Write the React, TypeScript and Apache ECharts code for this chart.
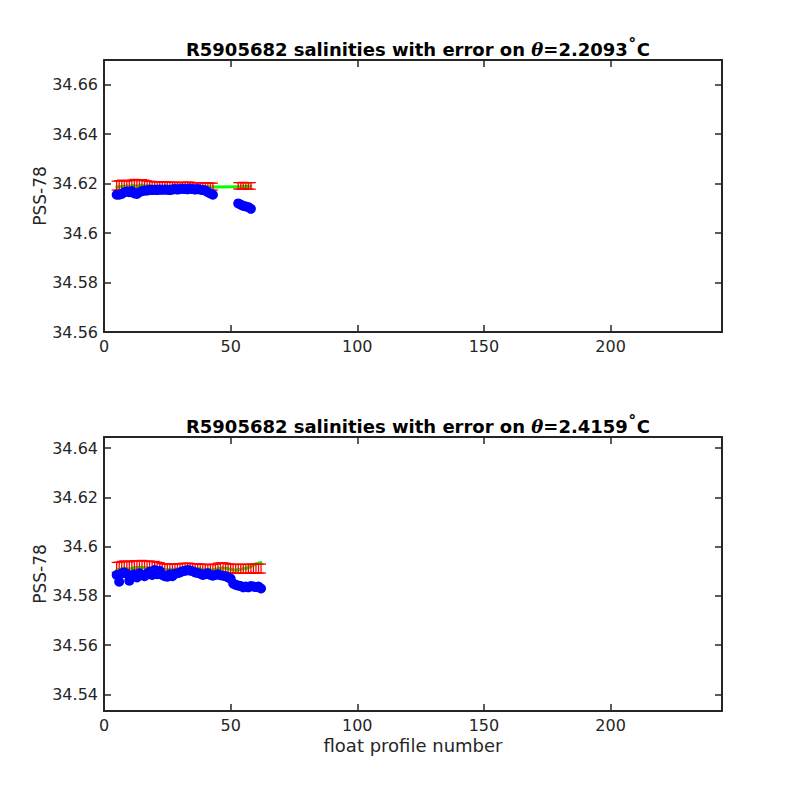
import React, { useEffect, useRef } from "react";
import * as echarts from "echarts";

// ---------- data ----------
const xTicks = [0, 50, 100, 150, 200];
const topYTicks = [34.56, 34.58, 34.6, 34.62, 34.64, 34.66];
const botYTicks = [34.54, 34.56, 34.58, 34.6, 34.62, 34.64];

const topTitleTheta = "2.2093";
const botTitleTheta = "2.4159";

const topProfiles = [
  5, 6, 7, 8, 9, 10, 11, 12, 13, 14, 15, 16, 17, 18, 19, 20, 21, 22, 23, 24,
  25, 26, 27, 28, 29, 30, 31, 32, 33, 34, 35, 36, 37, 38, 39, 40, 41, 42, 43,
  53, 54, 55, 56, 57, 58,
];
const topSal = [
  34.6155, 34.6155, 34.6158, 34.6165, 34.6168, 34.6165, 34.617, 34.616, 34.6158, 34.6165,
  34.617, 34.6172, 34.6172, 34.6175, 34.6174, 34.6175, 34.6174, 34.6176, 34.6175, 34.6176,
  34.6175, 34.6174, 34.6176, 34.6178, 34.6176, 34.6178, 34.6179, 34.6178, 34.6177, 34.618,
  34.6178, 34.6176, 34.6178, 34.6176, 34.6174, 34.6172, 34.6165, 34.616, 34.6155,
  34.612, 34.6115, 34.611, 34.6108, 34.6105, 34.6098,
];
const topCal = [
  34.6186, 34.6187, 34.6188, 34.6189, 34.619, 34.6189, 34.619, 34.6191, 34.619, 34.6191,
  34.6192, 34.6191, 34.619, 34.6191, 34.619, 34.6189, 34.619, 34.6189, 34.6188, 34.6189,
  34.619, 34.6189, 34.619, 34.6191, 34.619, 34.619, 34.6189, 34.619, 34.6191, 34.619,
  34.6189, 34.6188, 34.6188, 34.6187, 34.6188, 34.6187, 34.6186, 34.6186, 34.6186,
  34.6187, 34.6187, 34.6188, 34.6188, 34.6189, 34.6189,
];
const topBarMid = [
  34.6192, 34.6193, 34.6194, 34.6193, 34.6192, 34.6193, 34.6194, 34.6195, 34.6194, 34.6193,
  34.6195, 34.6194, 34.6193, 34.6192, 34.6192, 34.6191, 34.6192, 34.6191, 34.6191, 34.6192,
  34.6191, 34.619, 34.6191, 34.6191, 34.619, 34.619, 34.6191, 34.619, 34.6191, 34.6191,
  34.619, 34.619, 34.619, 34.6189, 34.619, 34.6189, 34.6189, 34.6188, 34.6188,
  34.6191, 34.6191, 34.6192, 34.6191, 34.6191, 34.6191,
];
const topErr = [
  0.0018, 0.0019, 0.002, 0.0019, 0.0018, 0.0019, 0.0021, 0.0022, 0.002, 0.0019,
  0.0021, 0.002, 0.0018, 0.0017, 0.0017, 0.0016, 0.0016, 0.0016, 0.0015, 0.0016,
  0.0015, 0.0015, 0.0015, 0.0015, 0.0014, 0.0015, 0.0015, 0.0014, 0.0015, 0.0015,
  0.0014, 0.0014, 0.0014, 0.0014, 0.0014, 0.0014, 0.0014, 0.0014, 0.0014,
  0.0013, 0.0013, 0.0013, 0.0013, 0.0013, 0.0013,
];

const botProfiles = [
  5, 6, 7, 8, 9, 10, 11, 12, 13, 14, 15, 16, 17, 18, 19, 20, 21, 22, 23, 24,
  25, 26, 27, 28, 29, 30, 31, 32, 33, 34, 35, 36, 37, 38, 39, 40, 41, 42, 43, 44,
  45, 46, 47, 48, 49, 50, 51, 52, 53, 54, 55, 56, 57, 58, 59, 60, 61, 62,
];
const botSal = [
  34.5885, 34.5858, 34.5892, 34.5895, 34.589, 34.5862, 34.588, 34.5888, 34.5875, 34.5892,
  34.5885, 34.588, 34.589, 34.5898, 34.5885, 34.5905, 34.5888, 34.5902, 34.5885, 34.588,
  34.5878, 34.5888, 34.588, 34.589, 34.5892, 34.5895, 34.59, 34.5902, 34.5905, 34.5903,
  34.59, 34.5895, 34.5893, 34.589, 34.5885, 34.5888, 34.5892, 34.5885, 34.5882, 34.5885,
  34.5888, 34.5884, 34.5882, 34.588, 34.5875, 34.587, 34.585, 34.5845, 34.5842, 34.584,
  34.5835, 34.5838, 34.5835, 34.584, 34.5838, 34.5836, 34.5838, 34.583,
];
const botCal = [
  34.5905, 34.5908, 34.591, 34.5912, 34.591, 34.5908, 34.5912, 34.5914, 34.5915, 34.5916,
  34.5915, 34.5914, 34.5913, 34.5915, 34.5912, 34.5915, 34.5913, 34.591, 34.5908, 34.5906,
  34.5906, 34.5907, 34.5907, 34.5908, 34.5909, 34.591, 34.5912, 34.5913, 34.5914, 34.5913,
  34.5912, 34.5911, 34.591, 34.5909, 34.5908, 34.5907, 34.5906, 34.5905, 34.5906, 34.5907,
  34.591, 34.5912, 34.5913, 34.5912, 34.591, 34.5908, 34.5906, 34.5905, 34.5906, 34.5908,
  34.591, 34.5912, 34.5915, 34.592, 34.5925, 34.593, 34.5933, 34.5935,
];
const botBarMid = [
  34.5916, 34.5917, 34.5919, 34.592, 34.5919, 34.5918, 34.592, 34.5921, 34.592, 34.5921,
  34.5922, 34.5921, 34.592, 34.5921, 34.5919, 34.592, 34.5918, 34.5916, 34.5913, 34.5912,
  34.5911, 34.5911, 34.5911, 34.5912, 34.5912, 34.5913, 34.5914, 34.5914, 34.5915, 34.5914,
  34.5913, 34.5912, 34.5912, 34.5911, 34.591, 34.591, 34.591, 34.5909, 34.591, 34.5911,
  34.5914, 34.5915, 34.5915, 34.5914, 34.5912, 34.5911, 34.591, 34.591, 34.591, 34.591,
  34.591, 34.591, 34.591, 34.5911, 34.5911, 34.5911, 34.5911, 34.5911,
];
const botErr = [
  0.002, 0.002, 0.0021, 0.0022, 0.0021, 0.002, 0.0021, 0.0022, 0.0021, 0.0022,
  0.0022, 0.0021, 0.002, 0.0021, 0.002, 0.002, 0.0019, 0.0019, 0.0018, 0.0018,
  0.0018, 0.0018, 0.0018, 0.0018, 0.0018, 0.0018, 0.0018, 0.0018, 0.0018, 0.0018,
  0.0018, 0.0018, 0.0018, 0.0018, 0.0018, 0.0018, 0.0018, 0.0018, 0.0018, 0.0018,
  0.0019, 0.0019, 0.0019, 0.0019, 0.0018, 0.0018, 0.0018, 0.0018, 0.0018, 0.0018,
  0.0018, 0.0018, 0.0018, 0.0018, 0.0018, 0.0018, 0.0018, 0.0018,
];

// ---------- helpers ----------
const AX = "#262626";
const FONT = "DejaVu Sans";

const fmtY = (v: number) => String(parseFloat(v.toFixed(3)));

function errorBarRender(params: any, api: any) {
  const x = api.value(0);
  const lo = api.value(1);
  const hi = api.value(2);
  const pLo = api.coord([x, lo]);
  const pHi = api.coord([x, hi]);
  const w = 5;
  const st = { stroke: "#ff0000", lineWidth: 1.3 };
  return {
    type: "group",
    children: [
      { type: "line", shape: { x1: pLo[0], y1: pLo[1], x2: pHi[0], y2: pHi[1] }, style: st },
      { type: "line", shape: { x1: pLo[0] - w, y1: pLo[1], x2: pLo[0] + w, y2: pLo[1] }, style: st },
      { type: "line", shape: { x1: pHi[0] - w, y1: pHi[1], x2: pHi[0] + w, y2: pHi[1] }, style: st },
    ],
  };
}

function makeTitle(theta: string, top: number) {
  return {
    text: `{b|R5905682 salinities with error on }{i|θ}{b|=${theta}}{s|˚}{b|C}`,
    left: 413,
    top,
    textAlign: "center",
    textStyle: {
      rich: {
        b: { fontFamily: FONT, fontWeight: "bold", fontSize: 18, color: "#000" },
        i: { fontFamily: "DejaVu Serif", fontStyle: "italic", fontSize: 18, color: "#000" },
        s: { fontFamily: FONT, fontWeight: "bold", fontSize: 18, color: "#000", padding: [0, 0, 7, 0] },
      },
    },
  };
}

function xAxes(gridIndex: number, withName: boolean) {
  const base = {
    gridIndex,
    type: "value",
    min: 0,
    max: 244,
    splitLine: { show: false },
    axisLine: { show: true, onZero: false, lineStyle: { color: AX, width: 2 } },
    axisTick: { show: true, inside: true, length: 7, customValues: xTicks, lineStyle: { color: AX, width: 1.5 } },
  };
  return [
    {
      ...base,
      position: "bottom",
      axisLabel: { customValues: xTicks, color: AX, fontFamily: FONT, fontSize: 16, margin: 6 },
      name: withName ? "float profile number" : "",
      nameLocation: "middle",
      nameGap: 25,
      nameTextStyle: { color: AX, fontFamily: FONT, fontSize: 18 },
    },
    { ...base, position: "top", axisLabel: { show: false } },
  ];
}

function yAxes(gridIndex: number, min: number, max: number, ticks: number[]) {
  const base = {
    gridIndex,
    type: "value",
    min,
    max,
    scale: true,
    splitLine: { show: false },
    axisLine: { show: true, onZero: false, lineStyle: { color: AX, width: 2 } },
    axisTick: { show: true, inside: true, length: 7, customValues: ticks, lineStyle: { color: AX, width: 1.5 } },
  };
  return [
    {
      ...base,
      position: "left",
      axisLabel: { customValues: ticks, formatter: fmtY, color: AX, fontFamily: FONT, fontSize: 16, margin: 6 },
      name: "PSS-78",
      nameLocation: "middle",
      nameGap: 56,
      nameMoveOverlap: false,
      nameTextStyle: { color: AX, fontFamily: FONT, fontSize: 17 },
    },
    { ...base, position: "right", axisLabel: { show: false } },
  ];
}

function seriesFor(idx: number, profiles: number[], sal: number[], cal: number[], mid: number[], err: number[]) {
  const xa = idx * 2;
  const ya = idx * 2;
  return [
    {
      type: "line",
      xAxisIndex: xa,
      yAxisIndex: ya,
      data: profiles.map((p, i) => [p, cal[i]]),
      symbol: "circle",
      symbolSize: 3,
      lineStyle: { color: "#00ff00", width: 3 },
      itemStyle: { color: "#00ff00" },
      z: 2,
    },
    {
      type: "custom",
      xAxisIndex: xa,
      yAxisIndex: ya,
      renderItem: errorBarRender,
      encode: { x: 0, y: [1, 2] },
      data: profiles.map((p, i) => [p, mid[i] - err[i], mid[i] + err[i]]),
      z: 3,
    },
    {
      type: "scatter",
      xAxisIndex: xa,
      yAxisIndex: ya,
      data: profiles.map((p, i) => [p, sal[i]]),
      symbol: "circle",
      symbolSize: 10,
      itemStyle: { color: "#0000ff", opacity: 1 },
      z: 4,
    },
  ];
}

export default function App() {
  const ref = useRef<HTMLDivElement>(null);
  useEffect(() => {
    if (!ref.current) return;
    const chart = echarts.init(ref.current, null, { renderer: "svg" });
    chart.setOption({
      animation: false,
      backgroundColor: "#ffffff",
      title: [makeTitle(topTitleTheta, 32), makeTitle(botTitleTheta, 409)],
      grid: [
        { left: 104, top: 60, width: 618, height: 272, containLabel: false },
        { left: 104, top: 437, width: 618, height: 274, containLabel: false },
      ],
      xAxis: [...xAxes(0, false), ...xAxes(1, true)],
      yAxis: [
        ...yAxes(0, 34.56, 34.67, topYTicks),
        ...yAxes(1, 34.5333, 34.6445, botYTicks),
      ],
      series: [
        ...seriesFor(0, topProfiles, topSal, topCal, topBarMid, topErr),
        ...seriesFor(1, botProfiles, botSal, botCal, botBarMid, botErr),
      ],
    });
    return () => chart.dispose();
  }, []);
  return (
    <div
      ref={ref}
      style={{ position: "absolute", left: 0, top: 0, width: 800, height: 800 }}
    />
  );
}
